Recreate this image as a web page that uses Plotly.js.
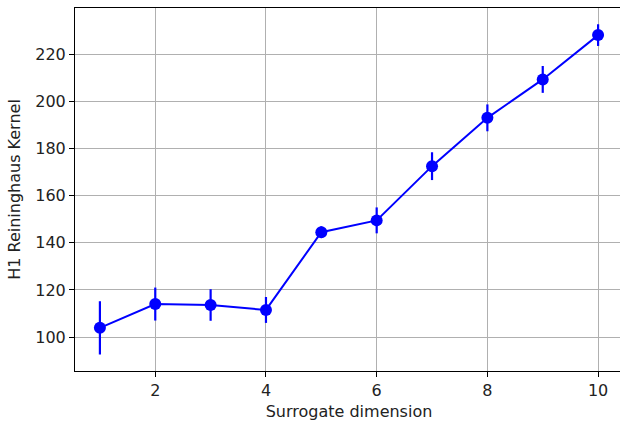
<!DOCTYPE html>
<html>
<head>
<meta charset="utf-8">
<script src="https://cdn.plot.ly/plotly-3.0.1.min.js"></script>
<style>
html,body{margin:0;padding:0;overflow:hidden;background:#fff;}
#chart{width:625px;height:423px;}
</style>
</head>
<body>
<div id="chart"></div>
<script>
const dims = [1, 2, 3, 4, 5, 6, 7, 8, 9, 10];
const kernelMean = [103.9, 114.0, 113.6, 111.5, 144.5, 149.5, 172.5, 193.0, 209.3, 228.1];
const kernelErr = [11.3, 7.0, 6.7, 5.5, 2.5, 5.5, 5.9, 5.7, 5.7, 4.6];
const xTicks = [2, 4, 6, 8, 10];
const yTicks = [100, 120, 140, 160, 180, 200, 220];

const trace = {
  x: dims,
  y: kernelMean,
  type: 'scatter',
  mode: 'lines+markers',
  line: {color: '#0000ff', width: 2},
  marker: {color: '#0000ff', size: 12},
  error_y: {type: 'data', array: kernelErr, visible: true, color: '#0000ff', thickness: 2.2, width: 0}
};

const axisCommon = {
  showline: true, linecolor: '#000', linewidth: 1, mirror: true,
  showgrid: true, gridcolor: '#b0b0b0', gridwidth: 1,
  ticks: 'outside', ticklen: 5, tickwidth: 1, tickcolor: '#000',
  zeroline: false,
  tickfont: {family: 'DejaVu Sans', size: 16, color: '#222'}
};

const layout = {
  width: 625, height: 423,
  margin: {l: 75, r: 2, t: 8, b: 52},
  paper_bgcolor: '#fff', plot_bgcolor: '#fff',
  showlegend: false,
  xaxis: Object.assign({}, axisCommon, {
    range: [0.55, 10.45], tickvals: xTicks, ticktext: xTicks.map(String),
    title: {text: 'Surrogate dimension', font: {family: 'DejaVu Sans', size: 16, color: '#222'}, standoff: 6}
  }),
  yaxis: Object.assign({}, axisCommon, {
    range: [85.6, 239.6], tickvals: yTicks, ticktext: yTicks.map(String),
    title: {text: 'H1 Reininghaus Kernel', font: {family: 'DejaVu Sans', size: 16, color: '#222'}, standoff: 10}
  })
};

Plotly.newPlot('chart', [trace], layout, {staticPlot: true, displayModeBar: false});
</script>
</body>
</html>
